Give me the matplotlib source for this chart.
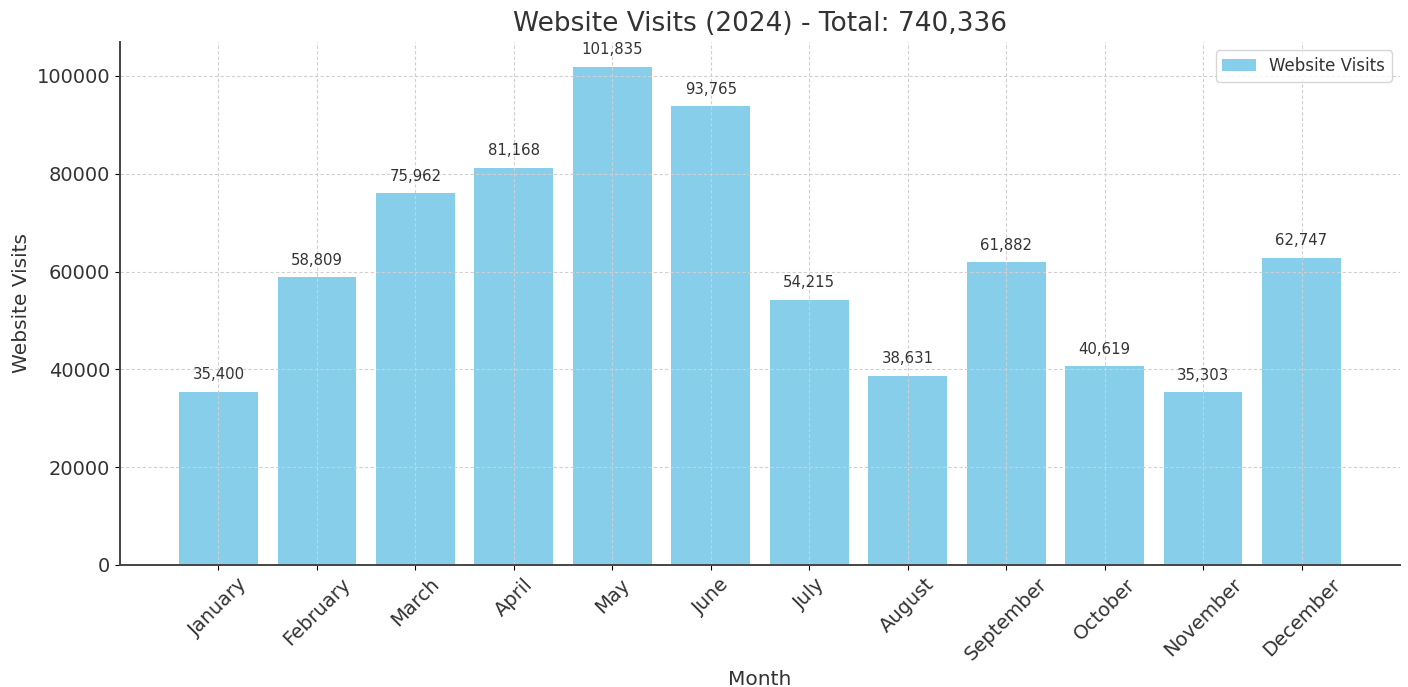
import matplotlib
matplotlib.use("Agg")
import matplotlib.pyplot as plt

plt.rcParams["font.family"] = ["DejaVu Sans"]

# monthly visit counts for 2024
months = ["January", "February", "March", "April", "May", "June",
          "July", "August", "September", "October", "November", "December"]
visits = [35400, 58809, 75962, 81168, 101835, 93765,
          54215, 38631, 61882, 40619, 35303, 62747]

total = sum(visits)
text_color = "#333333"

fig = plt.figure(figsize=(14.08, 6.87), dpi=100)
ax = fig.add_axes([0.0852, 0.1776, 0.9091, 0.7613])

bars = ax.bar(months, visits, width=0.8, color="skyblue", label="Website Visits")

for rect, v in zip(bars, visits):
    ax.annotate(f"{v:,}", (rect.get_x() + rect.get_width() / 2, rect.get_height()),
                xytext=(0, 7), textcoords="offset points",
                ha="center", va="bottom", fontsize=10.7, color=text_color)

ax.set_xlim(-1, 12)
ax.set_ylim(0, max(visits) * 1.05)

ax.set_title(f"Website Visits (2024) - Total: {total:,}", fontsize=19, color=text_color, pad=8)
ax.set_xlabel("Month", fontsize=14.5, color=text_color)
ax.set_ylabel("Website Visits", fontsize=14.5, color=text_color)
ax.tick_params(axis="both", labelsize=14, labelcolor=text_color)
plt.setp(ax.get_xticklabels(), rotation=45, ha="center")

ax.grid(True, linestyle=(0, (3, 2)), color="#d0d0d0", linewidth=0.8)
for side in ["top", "right"]:
    ax.spines[side].set_visible(False)
for side in ["left", "bottom"]:
    ax.spines[side].set_color("#444444")
    ax.spines[side].set_linewidth(1.4)

ax.legend(loc="upper right", fontsize=12, labelcolor=text_color)

fig.savefig("out.png", dpi=100)
